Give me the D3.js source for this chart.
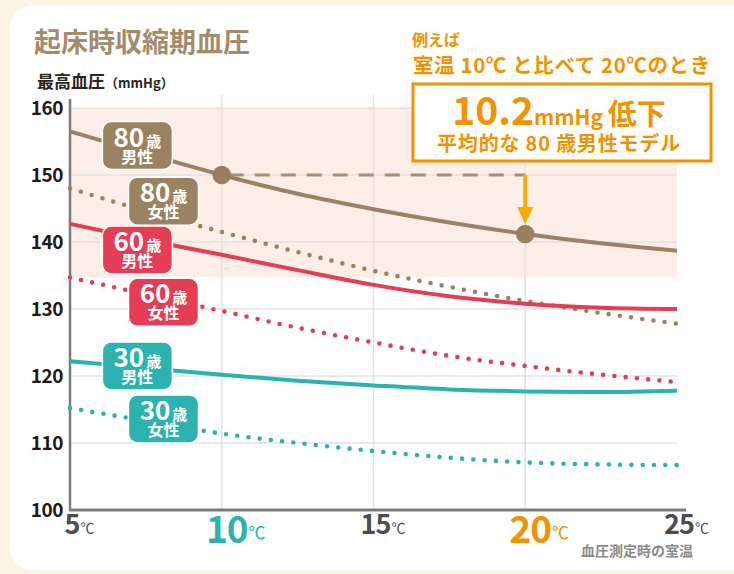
<!DOCTYPE html>
<html><head><meta charset="utf-8">
<script src="https://cdn.jsdelivr.net/npm/d3@7"></script>
<style>
html,body{margin:0;padding:0;background:#fbf4e4;}
svg{display:block;font-family:"Noto Sans CJK JP","Noto Sans",sans-serif;}
</style></head>
<body>
<svg id="chart" width="734" height="574"></svg>
<script>
// ---- data ----
const temps = [5, 7.5, 10, 12.5, 15, 17.5, 20, 22.5, 25];
const male80   = [156.5, 153.2, 150.0, 147.2, 144.9, 142.9, 141.2, 139.8, 138.7];
const female80 = [148.0, 144.6, 141.5, 138.5, 135.7, 133.3, 131.2, 129.4, 127.8];
const male60   = [142.7, 140.3, 138.1, 135.8, 133.6, 131.9, 130.8, 130.2, 130.0];
const female60 = [134.7, 132.2, 129.7, 127.2, 125.0, 123.0, 121.5, 120.2, 119.1];
const male30   = [122.2, 121.2, 120.2, 119.3, 118.6, 118.0, 117.7, 117.6, 117.8];
const female30 = [115.2, 113.3, 111.4, 110.0, 108.8, 107.8, 107.1, 106.8, 106.7];
const yTicks = [100, 110, 120, 130, 140, 150, 160];
const xTicks = [5, 10, 15, 20, 25];
const xTickLabels = ["5", "10", "15", "20", "25"];
const compareTemps = [10, 20];
const compareValues = [150.0, 141.2];
const bandRange = [134.7, 160];
const ageLabels = ["80", "80", "60", "60", "30", "30"];
const sexLabels = ["男性", "女性", "男性", "女性", "男性", "女性"];

const BROWN = "#9b8263", RED = "#e63d56", TEAL = "#2cb3b0", ORANGE = "#f39200", ARROW = "#f5ab00";

const svg = d3.select("#chart");
// card
svg.append("rect").attr("x", 10).attr("y", 6).attr("width", 760).attr("height", 564)
  .attr("rx", 22).attr("fill", "#ffffff");

const x = d3.scaleLinear().domain([5, 25]).range([70, 677]);
const y = d3.scaleLinear().domain([100, 160]).range([510, 108]);

// band
svg.append("rect").attr("x", x(5)).attr("y", y(bandRange[1]))
  .attr("width", x(25) - x(5)).attr("height", y(bandRange[0]) - y(bandRange[1]))
  .attr("fill", "#fdefe8");

// grid
svg.append("g").selectAll("line").data(yTicks.filter(d => d > 100)).join("line")
  .attr("x1", x(5)).attr("x2", x(25)).attr("y1", d => y(d)).attr("y2", d => y(d))
  .attr("stroke", "#e2e2e2").attr("stroke-width", 1.5);
svg.append("g").selectAll("line").data([10, 15, 20]).join("line")
  .attr("x1", d => x(d)).attr("x2", d => x(d)).attr("y1", 95).attr("y2", y(100))
  .attr("stroke", "#e2e2e2").attr("stroke-width", 1.5);

// axes
svg.append("line").attr("x1", x(5)).attr("x2", x(5)).attr("y1", 99).attr("y2", y(100) + 1)
  .attr("stroke", "#7b7b7b").attr("stroke-width", 2.5);
svg.append("line").attr("x1", x(5) - 1).attr("x2", 686).attr("y1", y(100)).attr("y2", y(100))
  .attr("stroke", "#7b7b7b").attr("stroke-width", 3);

// y tick labels
svg.append("g").selectAll("text").data(yTicks).join("text")
  .attr("x", 63).attr("y", d => y(d) + 7).attr("text-anchor", "end")
  .attr("font-size", 19).attr("font-weight", 700).attr("fill", "#231815")
  .attr("letter-spacing", -0.5)
  .text(d => d);

// x tick labels
const xColors = ["#4d4d4d", TEAL, "#4d4d4d", ORANGE, "#4d4d4d"];
const xBig = [false, true, false, true, false];
xTicks.forEach((t, i) => {
  const big = xBig[i];
  const g = svg.append("g");
  const num = g.append("text").attr("x", x(t) + (big ? 5 : 2)).attr("y", big ? 543 : 534)
    .attr("text-anchor", "middle").attr("font-size", big ? 37 : 27).attr("font-weight", 700)
    .attr("fill", xColors[i]).attr("letter-spacing", -1).text(xTickLabels[i]);
  const w = num.node().getComputedTextLength();
  g.append("text").attr("x", x(t) + (big ? 5 : 2) + w / 2 + 1).attr("y", big ? 539 : 533)
    .attr("font-size", big ? 17 : 14).attr("font-weight", 400)
    .attr("fill", xColors[i]).text("℃");
});
svg.append("text").attr("x", 693).attr("y", 556).attr("text-anchor", "end")
  .attr("font-size", 14).attr("font-weight", 700).attr("fill", "#8a8a8a").text("血圧測定時の室温");

// title & axis title
svg.append("text").attr("x", 34).attr("y", 52).attr("font-size", 27).attr("font-weight", 700)
  .attr("fill", "#a48b6b").text("起床時収縮期血圧");
const yt = svg.append("text").attr("x", 37).attr("y", 88).attr("font-weight", 700).attr("fill", "#2a2420");
yt.append("tspan").attr("font-size", 17).text("最高血圧");
yt.append("tspan").attr("font-size", 13).text("（mmHg）");

// lines
const line = vals => d3.line().x((d, i) => x(temps[i])).y(d => y(d)).curve(d3.curveMonotoneX)(vals);
const series = [
  {v: female80, c: BROWN, dot: true},
  {v: female60, c: RED, dot: true},
  {v: female30, c: TEAL, dot: true},
  {v: male60, c: RED, dot: false},
  {v: male30, c: TEAL, dot: false},
  {v: male80, c: BROWN, dot: false},
];
series.forEach(s => {
  const p = svg.append("path").attr("d", line(s.v)).attr("fill", "none").attr("stroke", s.c);
  if (s.dot) p.attr("stroke-width", 4.6).attr("stroke-linecap", "round").attr("stroke-dasharray", "0 11.3");
  else p.attr("stroke-width", 4);
});

// comparison dashed line, arrow, dots
svg.append("line").attr("x1", x(compareTemps[0])).attr("x2", x(compareTemps[1]))
  .attr("y1", y(compareValues[0])).attr("y2", y(compareValues[0]))
  .attr("stroke", "#a48f78").attr("stroke-width", 3).attr("stroke-dasharray", "15 11")
  .attr("stroke-dashoffset", -7);
svg.append("line").attr("x1", x(compareTemps[1])).attr("x2", x(compareTemps[1]))
  .attr("y1", y(compareValues[0])).attr("y2", y(compareValues[1]) - 24)
  .attr("stroke", ARROW).attr("stroke-width", 4);
const ax = x(compareTemps[1]), ay = y(compareValues[1]) - 10;
svg.append("path").attr("d", `M${ax - 8},${ay - 17} L${ax + 8},${ay - 17} L${ax},${ay} Z`).attr("fill", ARROW);
svg.append("g").selectAll("circle").data(compareTemps).join("circle")
  .attr("cx", d => x(d)).attr("cy", (d, i) => y(compareValues[i])).attr("r", 9.3).attr("fill", "#9a8061");

// series labels
const labelPos = [[7.22, 154.4], [8.08, 146.1], [7.22, 138.8], [8.08, 131.0], [7.22, 121.5], [8.08, 113.6]];
const labelCol = [BROWN, BROWN, RED, RED, TEAL, TEAL];
labelPos.forEach((p, i) => {
  const cx = x(p[0]), cy = y(p[1]);
  const g = svg.append("g");
  g.append("rect").attr("x", cx - 35).attr("y", cy - 24).attr("width", 70).attr("height", 48)
    .attr("rx", 9).attr("fill", labelCol[i]).attr("stroke", "#ffffff").attr("stroke-width", 1.5);
  const t = g.append("text").attr("x", cx).attr("y", cy + 1).attr("text-anchor", "middle")
    .attr("fill", "#fff").attr("font-weight", 700);
  t.append("tspan").attr("font-size", 26).text(ageLabels[i]);
  t.append("tspan").attr("font-size", 15).attr("dx", 2).text("歳");
  g.append("text").attr("x", cx).attr("y", cy + 17).attr("text-anchor", "middle")
    .attr("fill", "#fff").attr("font-weight", 700).attr("font-size", 16).text(sexLabels[i]);
});

// annotation
svg.append("text").attr("x", 412).attr("y", 46).attr("font-size", 16).attr("font-weight", 700)
  .attr("fill", ORANGE).text("例えば");
svg.append("text").attr("x", 413).attr("y", 73).attr("font-size", 20.5).attr("font-weight", 700)
  .attr("fill", ORANGE).attr("letter-spacing", 0.6).text("室温 10℃ と比べて 20℃のとき");
svg.append("rect").attr("x", 413).attr("y", 84).attr("width", 298).attr("height", 77)
  .attr("fill", "#fff").attr("stroke", ORANGE).attr("stroke-width", 3);
const a1 = svg.append("text").attr("x", 559).attr("y", 125).attr("text-anchor", "middle")
  .attr("fill", ORANGE).attr("font-weight", 700);
a1.append("tspan").attr("font-size", 39).text("10.2");
a1.append("tspan").attr("font-size", 21).text("mmHg ");
a1.append("tspan").attr("font-size", 29).text("低下");
svg.append("text").attr("x", 559).attr("y", 151).attr("text-anchor", "middle")
  .attr("fill", ORANGE).attr("font-weight", 700).attr("font-size", 20).attr("letter-spacing", 0.8)
  .text("平均的な 80 歳男性モデル");
</script>
</body></html>
